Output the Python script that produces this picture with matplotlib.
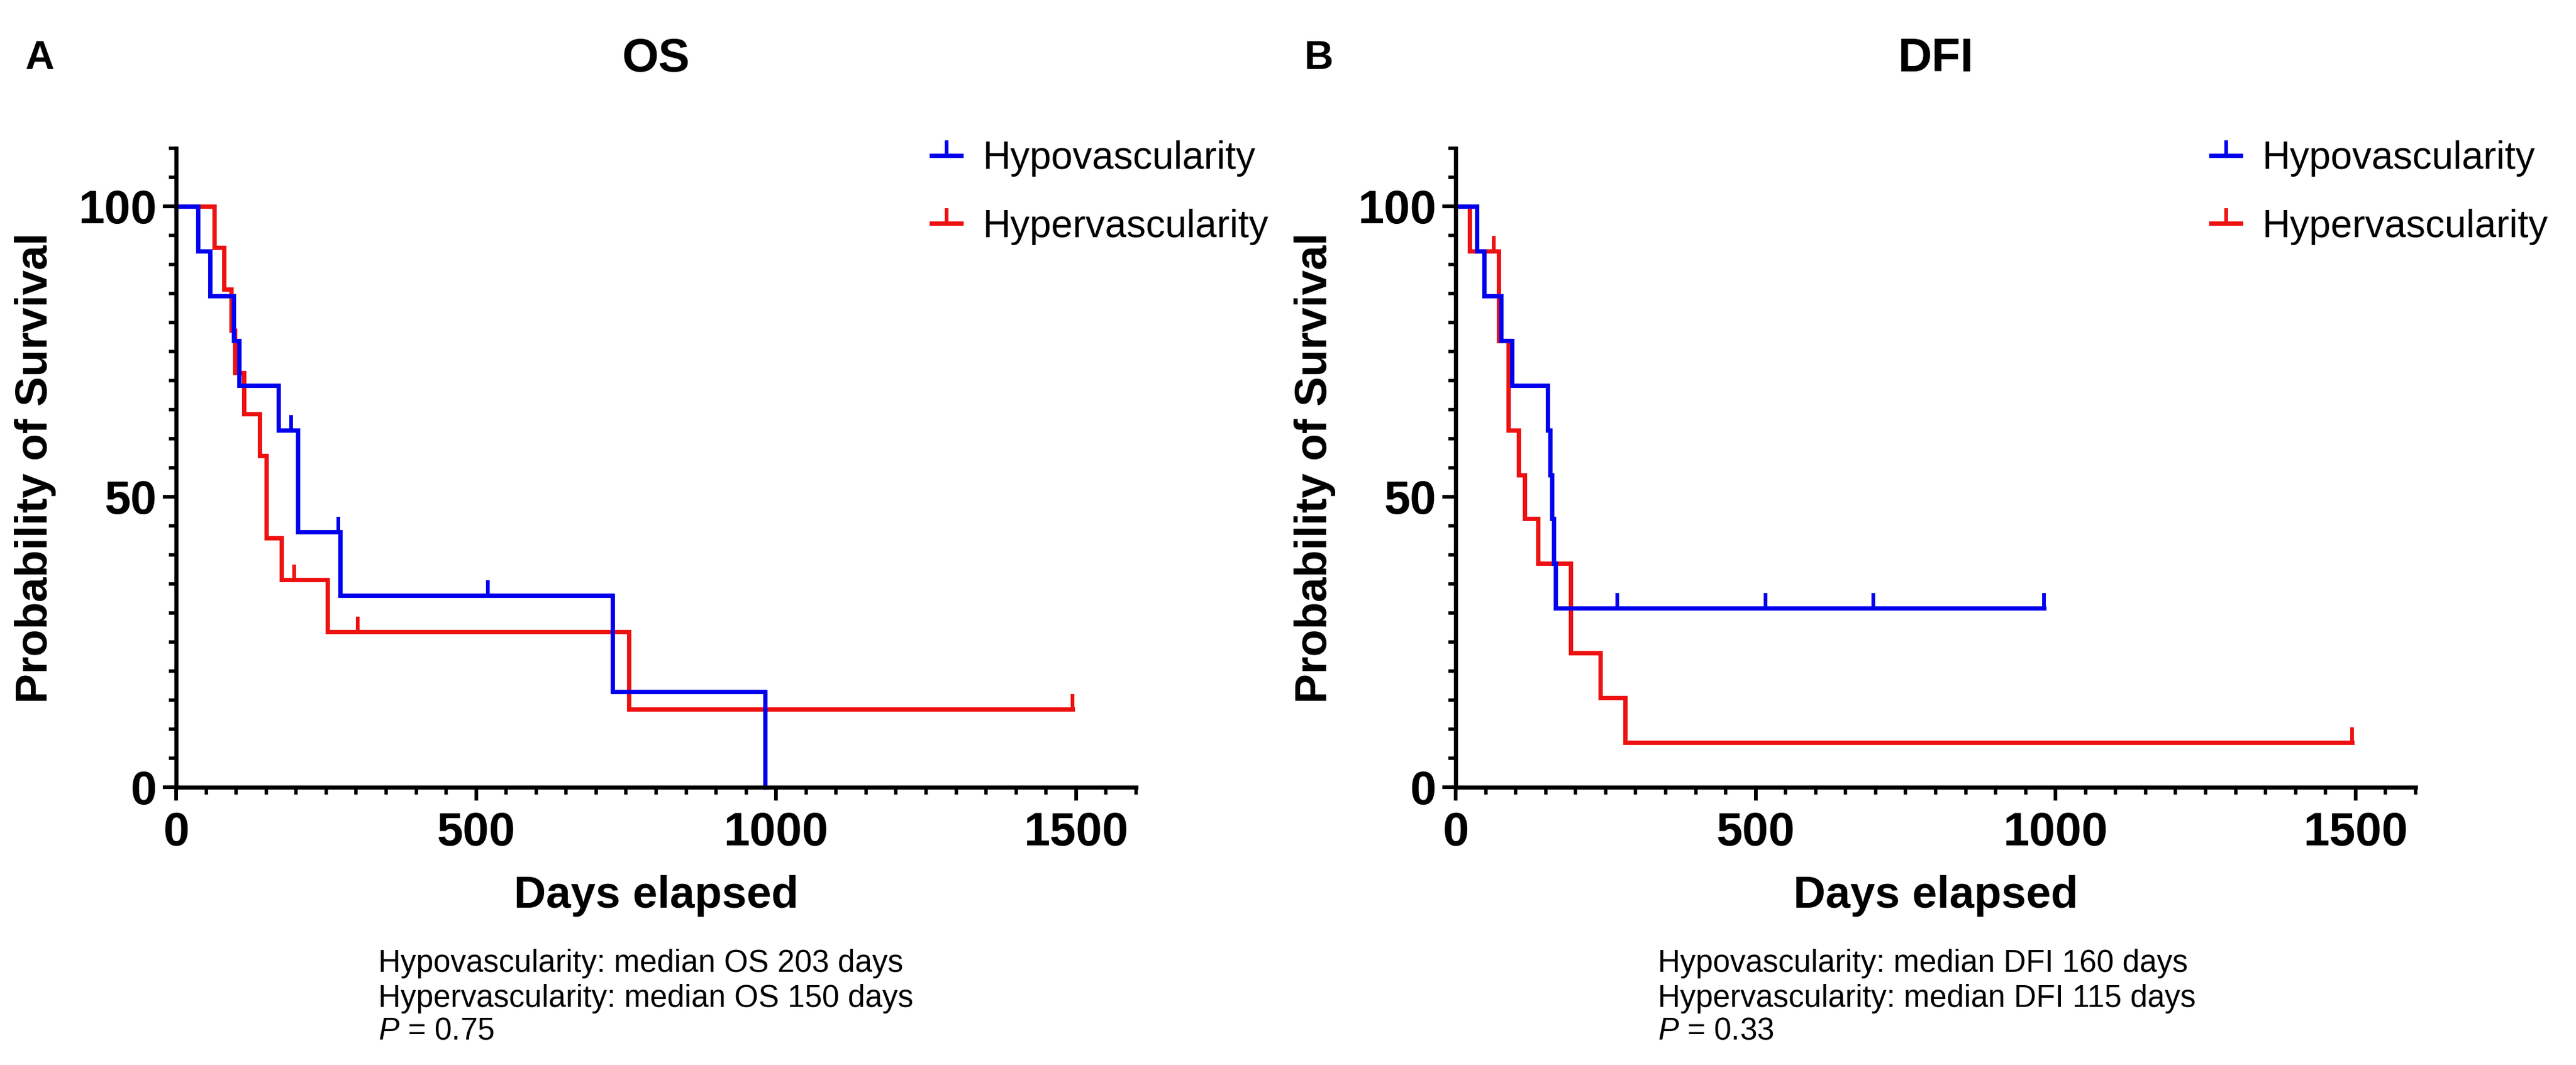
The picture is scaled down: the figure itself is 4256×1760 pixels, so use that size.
import matplotlib
matplotlib.use('Agg')
import matplotlib.pyplot as plt
from matplotlib.lines import Line2D
from matplotlib.ticker import MultipleLocator

plt.rcParams['font.family'] = ['Liberation Sans', 'DejaVu Sans']
plt.rcParams['mathtext.fontset'] = 'custom'
plt.rcParams['mathtext.it'] = 'Liberation Sans:italic'
plt.rcParams['mathtext.rm'] = 'Liberation Sans'

# Kaplan-Meier step data (days, % survival)
os_hypo_t = [0, 36, 56, 96, 105, 170, 203, 273, 727, 982]
os_hypo_s = [100, 92.3, 84.6, 76.9, 69.2, 61.5, 44.0, 33.0, 16.5, 0]
os_hypo_cens_t = [192, 270, 520]
os_hypo_cens_s = [61.5, 44.0, 33.0]

os_hyper_t = [0, 63, 80, 92, 98, 113, 139, 150, 175, 252, 755, 1494]
os_hyper_s = [100, 92.9, 85.7, 78.6, 71.4, 64.3, 57.1, 42.9, 35.7, 26.8, 13.4, 13.4]
os_hyper_cens_t = [197, 303, 1494]
os_hyper_cens_s = [35.7, 26.8, 13.4]

dfi_hypo_t = [0, 35, 47, 76, 94, 153, 157, 160, 163, 166, 981]
dfi_hypo_s = [100, 92.3, 84.6, 76.9, 69.2, 61.5, 53.8, 46.2, 38.5, 30.8, 30.8]
dfi_hypo_cens_t = [269, 517, 696, 981]
dfi_hypo_cens_s = [30.8, 30.8, 30.8, 30.8]

dfi_hyper_t = [0, 23, 72, 88, 105, 115, 137, 192, 241, 282, 1494]
dfi_hyper_s = [100, 92.3, 76.9, 61.5, 53.8, 46.2, 38.5, 23.1, 15.4, 7.7, 7.7]
dfi_hyper_cens_t = [64, 1494]
dfi_hyper_cens_s = [92.3, 7.7]

groups = ['Hypovascularity', 'Hypervascularity']
titles = ['OS', 'DFI']
letters = ['A', 'B']
notes = [['Hypovascularity: median OS 203 days',
          'Hypervascularity: median OS 150 days',
          r'$\mathit{P}$ = 0.75'],
         ['Hypovascularity: median DFI 160 days',
          'Hypervascularity: median DFI 115 days',
          r'$\mathit{P}$ = 0.33']]

blue = '#0000EE'
red = '#EE1111'
lw = 2.6

fig = plt.figure(figsize=(21.28, 8.8), dpi=200)

panels = [
    (0.0684, [(os_hyper_t, os_hyper_s, os_hyper_cens_t, os_hyper_cens_s, red),
              (os_hypo_t, os_hypo_s, os_hypo_cens_t, os_hypo_cens_s, blue)]),
    (0.5651, [(dfi_hyper_t, dfi_hyper_s, dfi_hyper_cens_t, dfi_hyper_cens_s, red),
              (dfi_hypo_t, dfi_hypo_s, dfi_hypo_cens_t, dfi_hypo_cens_s, blue)]),
]

for i, (left, curves) in enumerate(panels):
    ax = fig.add_axes([left, 0.2608, 0.3726, 0.6])
    for t, s, ct, cs, c in curves:
        ax.step(t, s, where='post', color=c, lw=lw, clip_on=False, solid_joinstyle='miter')
        ax.plot(ct, cs, ls='none', marker=2, ms=9, mew=2.2, color=c, clip_on=False)

    ax.set_xlim(0, 1600)
    ax.set_ylim(0, 110)
    ax.spines['top'].set_visible(False)
    ax.spines['right'].set_visible(False)
    ax.spines['left'].set_linewidth(2.4)
    ax.spines['bottom'].set_linewidth(2.4)

    ax.set_xticks([0, 500, 1000, 1500])
    ax.set_yticks([0, 50, 100])
    ax.xaxis.set_minor_locator(MultipleLocator(50))
    ax.yaxis.set_minor_locator(MultipleLocator(5))
    ax.tick_params(which='major', length=8, width=2.2, direction='out')
    ax.tick_params(which='minor', length=4.3, width=2.0, direction='out')
    ax.tick_params(axis='x', which='major', pad=6)
    ax.tick_params(axis='y', which='major', pad=3.5)
    for lab in ax.get_xticklabels() + ax.get_yticklabels():
        lab.set_fontsize(28)
        lab.set_fontweight('bold')

    ax.set_xlabel('Days elapsed', fontsize=26.5, fontweight='bold', labelpad=12)
    ax.set_ylabel('Probability of Survival', fontsize=26.5, fontweight='bold', labelpad=13)

    ax.text(0.5, 1.14, titles[i], transform=ax.transAxes, ha='center', va='center',
            fontsize=28, fontweight='bold')
    fig.text(left - 0.0588, 0.945, letters[i], ha='left', va='center',
             fontsize=24, fontweight='bold')

    handles = [Line2D([0], [0], color=blue, lw=lw, marker=2, ms=9, mew=2.2),
               Line2D([0], [0], color=red, lw=lw, marker=2, ms=9, mew=2.2)]
    fig.legend(handles, groups, loc='upper left',
               bbox_to_anchor=(left + 0.2932, 0.868), frameon=False, fontsize=23,
               handlelength=0.77, handletextpad=0.55, labelspacing=0.82,
               borderpad=0, borderaxespad=0, numpoints=1)

    for j, line in enumerate(notes[i]):
        fig.text(left + 0.0785, [0.0949, 0.0625, 0.0318][j], line,
                 ha='left', va='center', fontsize=18.4)

fig.savefig('out.png', dpi=200)
